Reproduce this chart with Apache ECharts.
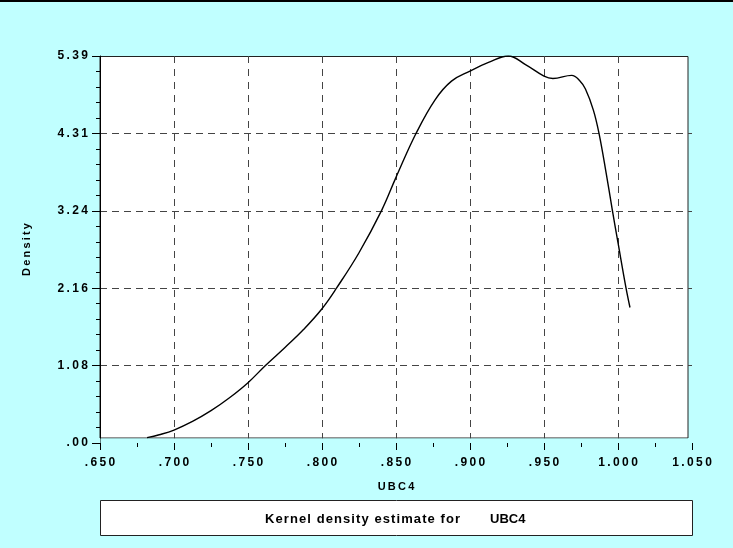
<!DOCTYPE html>
<html>
<head>
<meta charset="utf-8">
<script src="https://cdn.jsdelivr.net/npm/echarts@6/dist/echarts.min.js"></script>
<style>
  html, body { margin: 0; padding: 0; background: #c0ffff; }
  #chart { width: 733px; height: 548px; }
</style>
</head>
<body>
<div id="chart"></div>
<script>
// Kernel density estimate of UBC4
const ubc4 = [0.6818, 0.690, 0.700, 0.7125, 0.725, 0.7375, 0.750, 0.7618, 0.775, 0.7875,
              0.800, 0.8099, 0.825, 0.8403, 0.850, 0.8635, 0.8764, 0.8875, 0.900, 0.9125,
              0.9259, 0.9375, 0.950, 0.956, 0.9687, 0.9740, 0.9780, 0.9833, 0.9872, 0.9920,
              0.9962, 1.000, 1.0054, 1.0081];
const density = [0.075, 0.115, 0.18, 0.30, 0.45, 0.63, 0.84, 1.08, 1.33, 1.58,
                 1.87, 2.16, 2.65, 3.24, 3.70, 4.31, 4.78, 5.04, 5.18, 5.30,
                 5.39, 5.27, 5.11, 5.077, 5.12, 5.05, 4.93, 4.64, 4.31, 3.76,
                 3.24, 2.79, 2.16, 1.887];
const xTickLabels = ['.650', '.700', '.750', '.800', '.850', '.900', '.950', '1.000', '1.050'];
const yTickLabels = ['.00', '1.08', '2.16', '3.24', '4.31', '5.39'];
const xName = 'UBC4';
const yName = 'Density';
const captionLead = 'Kernel density estimate for';
const captionVar = 'UBC4';

const X_MIN = 0.65, X_MAX = 1.05, X_STEP = 0.05;
const Y_MIN = 0, Y_MAX = 5.39, Y_STEP = 1.078;

// widen glyph spacing the way the old plotting style does
const spaced = (s, gap = '\u2009') => s.split('').join(gap);

const FONT = '"Liberation Sans", Arial, sans-serif';
const BG = '#c0ffff';

const chart = echarts.init(document.getElementById('chart'), null, { renderer: 'canvas' });

chart.setOption({
  backgroundColor: BG,
  animation: false,
  grid: { left: 100, right: 41, top: 56, bottom: 105, containLabel: false },
  xAxis: {
    type: 'value',
    min: X_MIN, max: X_MAX, interval: X_STEP,
    name: spaced(xName),
    nameLocation: 'middle',
    nameGap: 38,
    nameTextStyle: { fontFamily: FONT, fontWeight: 'bold', fontSize: 11, color: '#000', verticalAlign: 'top' },
    axisLine: { show: false },
    axisTick: { show: true, length: 7, lineStyle: { color: '#000', width: 1 } },
    minorTick: { show: true, splitNumber: 2, length: 4, lineStyle: { color: '#000', width: 1 } },
    axisLabel: {
      margin: 14,
      fontFamily: FONT, fontWeight: 'bold', fontSize: 12, color: '#000',
      formatter: v => spaced(xTickLabels[Math.round((v - X_MIN) / X_STEP)] || '')
    },
    splitLine: {
      show: true, showMinLine: false, showMaxLine: false,
      lineStyle: { color: '#444', width: 1, type: [7, 6] }
    }
  },
  yAxis: {
    type: 'value',
    min: Y_MIN, max: Y_MAX, interval: Y_STEP,
    name: spaced(yName),
    nameLocation: 'middle',
    nameRotate: 90,
    nameGap: 68,
    nameTextStyle: { fontFamily: FONT, fontWeight: 'bold', fontSize: 11, color: '#000' },
    axisLine: { show: true, lineStyle: { color: '#000', width: 1 } },
    axisTick: { show: true, length: 8, lineStyle: { color: '#000', width: 1 } },
    minorTick: { show: true, splitNumber: 5, length: 4, lineStyle: { color: '#000', width: 1 } },
    axisLabel: {
      margin: 12,
      fontFamily: FONT, fontWeight: 'bold', fontSize: 12, color: '#000',
      formatter: v => spaced(yTickLabels[Math.round(v / Y_STEP)] || '')
    },
    splitLine: {
      show: true, showMinLine: false, showMaxLine: false,
      lineStyle: { color: '#444', width: 1, type: [7, 5] }
    }
  },
  graphic: [
    // black strip along the top edge
    { type: 'rect', z: 10, shape: { x: 0, y: 0, width: 733, height: 2 }, style: { fill: '#000' } },
    // white plotting panel
    { type: 'rect', z: -1, shape: { x: 100, y: 56.5, width: 588, height: 381.5 },
      style: { fill: '#fff', stroke: '#222', lineWidth: 1 } },
    // gap between the panel and the tick row
    { type: 'rect', z: 1, shape: { x: 100.5, y: 438.5, width: 592, height: 4.5 },
      style: { fill: BG } },
    // caption box
    { type: 'rect', z: 1, shape: { x: 100.5, y: 500.5, width: 592, height: 35 },
      style: { fill: '#fff', stroke: '#222', lineWidth: 1 } },
    { type: 'text', z: 2, x: 265, y: 519,
      style: { text: spaced(captionLead, '\u200A'), fontFamily: FONT, fontWeight: 'bold', fontSize: 13,
               fill: '#000', align: 'left', verticalAlign: 'middle' } },
    { type: 'text', z: 2, x: 490, y: 519,
      style: { text: captionVar, fontFamily: FONT, fontWeight: 'bold', fontSize: 13,
               fill: '#000', align: 'left', verticalAlign: 'middle' } }
  ],
  series: [{
    type: 'line',
    data: ubc4.map((x, i) => [x, density[i]]),
    showSymbol: false,
    smooth: 0.4,
    lineStyle: { color: '#000', width: 1.4 },
    z: 3
  }]
});
</script>
</body>
</html>
